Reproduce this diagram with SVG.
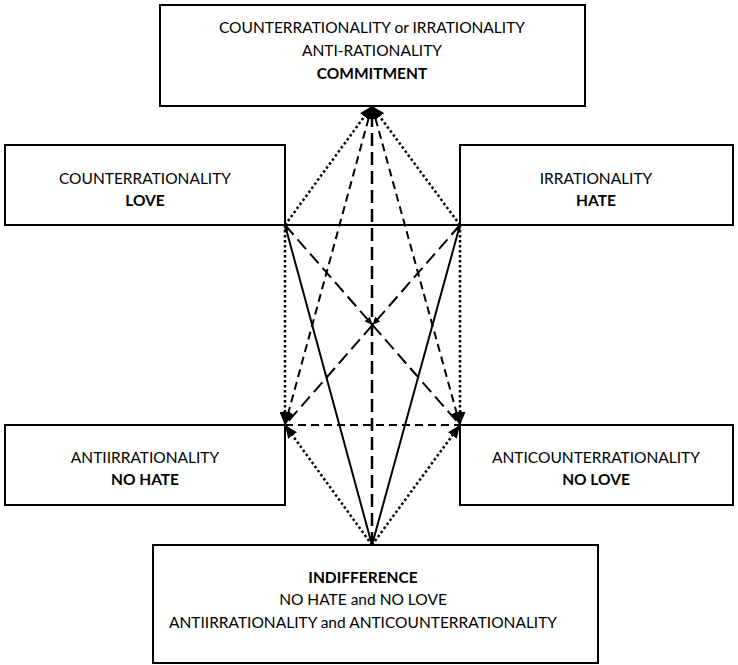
<svg xmlns="http://www.w3.org/2000/svg" width="738" height="665" viewBox="0 0 738 665">
<style>
.box{fill:#fff;stroke:#000;stroke-width:2}
text{font-family:Lato,"Open Sans","Liberation Sans",sans-serif;font-size:15.5px;fill:#000;text-anchor:middle}
.b{font-weight:bold}
.c{fill:none;stroke:#000;stroke-width:2}
.dot{stroke-dasharray:2.5 2.5;stroke-width:2.5}
.sdash{stroke-dasharray:8 5}
.ldash{stroke-dasharray:13 6}
.vdash{stroke-dasharray:13 6;stroke-width:2.5}
</style>
<defs>
<marker id="ah" markerWidth="13" markerHeight="11" refX="13" refY="5.5" orient="auto" markerUnits="userSpaceOnUse"><path d="M0,0 L13,5.5 L0,11 z" fill="#000"/></marker>
<marker id="as" markerWidth="8" markerHeight="7" refX="8" refY="3.5" orient="auto" markerUnits="userSpaceOnUse"><path d="M0,0 L8,3.5 L0,7 z" fill="#000"/></marker>
<marker id="at" markerWidth="6" markerHeight="5" refX="6" refY="2.5" orient="auto" markerUnits="userSpaceOnUse"><path d="M0,0 L6,2.5 L0,5 z" fill="#000"/></marker>
</defs>
<g id="connectors">
<line class="c" x1="285" y1="225" x2="460" y2="225"/>
<line class="c" x1="372" y1="545" x2="285" y2="225" marker-end="url(#at)"/>
<line class="c" x1="372" y1="545" x2="460" y2="225" marker-end="url(#at)"/>
<line class="c dot" x1="285" y1="225" x2="372" y2="106" marker-end="url(#ah)"/>
<line class="c dot" x1="460" y1="225" x2="372" y2="106" marker-end="url(#ah)"/>
<line class="c dot" x1="285" y1="225" x2="285" y2="425" marker-end="url(#ah)"/>
<line class="c dot" x1="460" y1="225" x2="460" y2="425" marker-end="url(#ah)"/>
<line class="c dot" x1="372" y1="545" x2="285" y2="425" marker-end="url(#ah)"/>
<line class="c dot" x1="372" y1="545" x2="460" y2="425" marker-end="url(#ah)"/>
<line class="c sdash" x1="372" y1="106" x2="285" y2="425" marker-end="url(#ah)"/>
<line class="c sdash" x1="372" y1="106" x2="460" y2="425" marker-end="url(#ah)"/>
<line class="c sdash" x1="285" y1="425" x2="460" y2="425"/>
<path class="c ldash" d="M285,225 L372.5,325 L460,425" marker-mid="url(#as)"/>
<path class="c ldash" d="M460,225 L372.5,325 L285,425" marker-mid="url(#as)"/>
<line class="c vdash" x1="372" y1="545" x2="372" y2="106" marker-end="url(#ah)"/>
</g>
<g id="n-top">
<rect class="box" x="160" y="5" width="425" height="101"/>
<text x="372" y="33">COUNTERRATIONALITY or IRRATIONALITY</text>
<text x="372" y="56">ANTI-RATIONALITY</text>
<text class="b" x="372" y="79">COMMITMENT</text>
</g>
<g id="n-love">
<rect class="box" x="5" y="145" width="280" height="80"/>
<text x="145" y="184">COUNTERRATIONALITY</text>
<text class="b" x="145" y="206">LOVE</text>
</g>
<g id="n-hate">
<rect class="box" x="460" y="145" width="273" height="80"/>
<text x="596" y="184">IRRATIONALITY</text>
<text class="b" x="596" y="206">HATE</text>
</g>
<g id="n-nohate">
<rect class="box" x="5" y="425" width="280" height="80"/>
<text x="145" y="463">ANTIIRRATIONALITY</text>
<text class="b" x="145" y="485">NO HATE</text>
</g>
<g id="n-nolove">
<rect class="box" x="460" y="425" width="273" height="80"/>
<text x="596" y="463">ANTICOUNTERRATIONALITY</text>
<text class="b" x="596" y="485">NO LOVE</text>
</g>
<g id="n-bottom">
<rect class="box" x="153" y="545" width="445" height="118"/>
<text class="b" x="363" y="583">INDIFFERENCE</text>
<text x="363" y="605">NO HATE and NO LOVE</text>
<text x="363" y="628">ANTIIRRATIONALITY and ANTICOUNTERRATIONALITY</text>
</g>
</svg>
